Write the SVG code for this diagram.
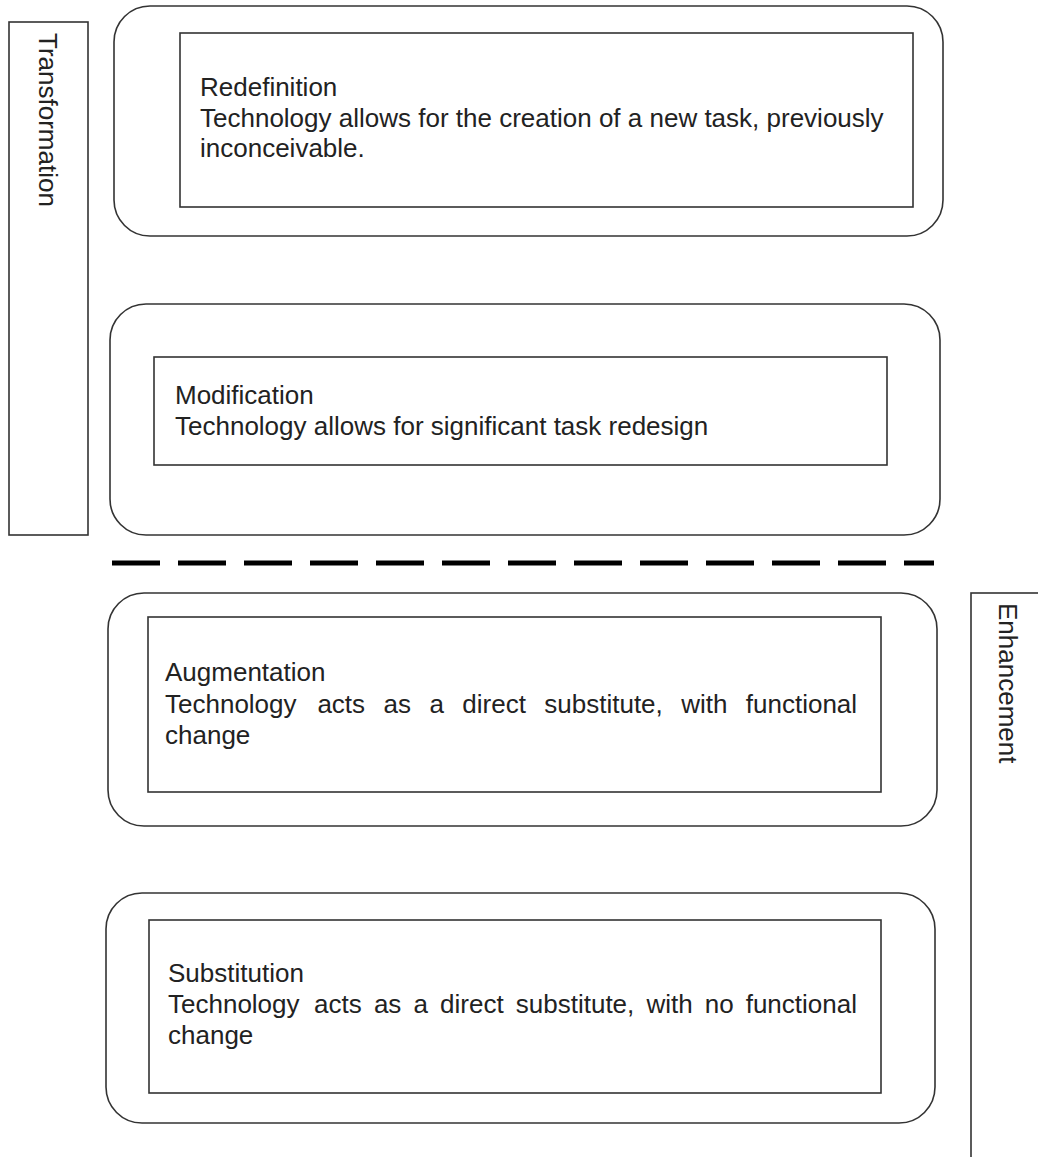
<svg xmlns="http://www.w3.org/2000/svg" width="1038" height="1157" viewBox="0 0 1038 1157">
  <style>
    .frame { fill: #ffffff; stroke: #333333; stroke-width: 1.6; }
    .card { fill: #ffffff; stroke: #333333; stroke-width: 1.6; }
    .side { fill: #ffffff; stroke: #333333; stroke-width: 1.6; }
    .txt { font-family: "Liberation Sans", Arial, sans-serif; font-size: 26px; fill: #222222; }
    .divider { stroke: #000000; stroke-width: 5; stroke-dasharray: 48 18; fill: none; }
  </style>
  <rect width="1038" height="1157" fill="#ffffff"/>

  <!-- side labels -->
  <g id="transformation">
    <rect class="side" x="9" y="22" width="79" height="513"/>
    <text class="txt" transform="translate(39,33) rotate(90)" x="0" y="0">Transformation</text>
  </g>
  <g id="enhancement">
    <rect class="side" x="971" y="593" width="80" height="580"/>
    <text class="txt" transform="translate(999,603) rotate(90)" x="0" y="0">Enhancement</text>
  </g>

  <!-- SAMR levels -->
  <g id="redefinition">
    <rect class="frame" x="114" y="6" width="829" height="230" rx="36" ry="36"/>
    <rect class="card" x="180" y="33" width="733" height="174"/>
    <text class="txt" x="200" y="96">Redefinition</text>
    <text class="txt" x="200" y="127">Technology allows for the creation of a new task, previously</text>
    <text class="txt" x="200" y="157">inconceivable.</text>
  </g>

  <g id="modification">
    <rect class="frame" x="110" y="304" width="830" height="231" rx="36" ry="36"/>
    <rect class="card" x="154" y="357" width="733" height="108"/>
    <text class="txt" x="175" y="404">Modification</text>
    <text class="txt" x="175" y="435">Technology allows for significant task redesign</text>
  </g>

  <g id="augmentation">
    <rect class="frame" x="108" y="593" width="829" height="233" rx="36" ry="36"/>
    <rect class="card" x="148" y="617" width="733" height="175"/>
    <text class="txt" x="165" y="681">Augmentation</text>
    <text class="txt" y="713"><tspan x="165">Technology</tspan><tspan x="317.4">acts</tspan><tspan x="383.5">as</tspan><tspan x="429.4">a</tspan><tspan x="462.3">direct</tspan><tspan x="544.3">substitute,</tspan><tspan x="681.2">with</tspan><tspan x="745.8">functional</tspan></text>
    <text class="txt" x="165" y="744">change</text>
  </g>

  <g id="substitution">
    <rect class="frame" x="106" y="893" width="829" height="230" rx="36" ry="36"/>
    <rect class="card" x="149" y="920" width="732" height="173"/>
    <text class="txt" x="168" y="982">Substitution</text>
    <text class="txt" y="1013"><tspan x="168">Technology</tspan><tspan x="314.1">acts</tspan><tspan x="373.9">as</tspan><tspan x="413.5">a</tspan><tspan x="440.1">direct</tspan><tspan x="515.8">substitute,</tspan><tspan x="646.4">with</tspan><tspan x="704.7">no</tspan><tspan x="745.7">functional</tspan></text>
    <text class="txt" x="168" y="1044">change</text>
  </g>

  <!-- boundary between transformation and enhancement -->
  <g id="connectors">
    <line class="divider" x1="112" y1="563" x2="934" y2="563"/>
  </g>
</svg>
